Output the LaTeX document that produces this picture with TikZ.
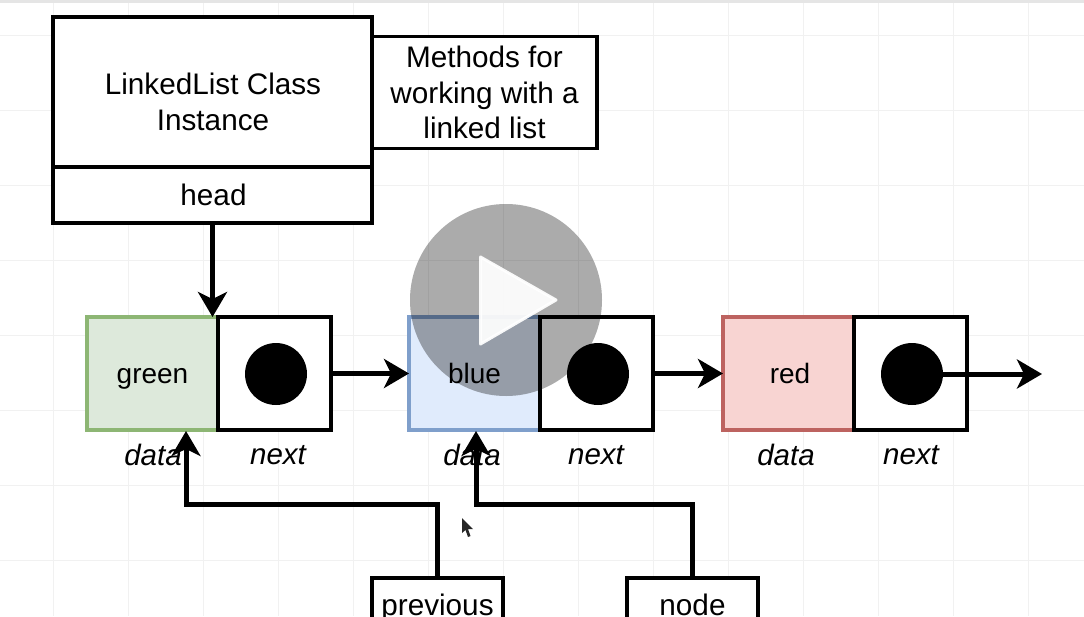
\documentclass[tikz,border=0pt]{standalone}
\usepackage{fontspec}
\setmainfont{Liberation Sans}
\usetikzlibrary{arrows.meta,calc}
\definecolor{gridc}{HTML}{F1F1F1}
\definecolor{greenstroke}{HTML}{8DB674}
\definecolor{greenfill}{HTML}{DDE9DB}
\definecolor{bluestroke}{HTML}{7F9FCB}
\definecolor{bluefill}{HTML}{E0EBFC}
\definecolor{redstroke}{HTML}{BD6360}
\definecolor{redfill}{HTML}{F8D4D2}
\tikzset{
  box/.style={draw=black,line width=3.3pt,fill=white,inner sep=0pt,outer sep=0pt,align=center,font=\fontsize{29.7}{35.5}\selectfont},
  cell/.style={box,minimum width=#1,minimum height=113pt,font=\fontsize{28}{33}\selectfont},
  cellfix/.style={text height=20pt,text depth=0pt},
  datagreen/.style={cell=131pt,draw=greenstroke,fill=greenfill},
  datablue/.style={cell=131pt,draw=bluestroke,fill=bluefill},
  datared/.style={cell=131pt,draw=redstroke,fill=redfill},
  nextcell/.style={cell=113pt},
  dot/.style={circle,fill=black,inner sep=0pt,outer sep=0pt,minimum size=62pt},
  lbl/.style={inner sep=0pt,font=\fontsize{29.5}{35}\selectfont\itshape},
  plain/.style={inner sep=0pt,align=center,font=\fontsize{29.7}{35.5}\selectfont},
  lowbox/.style={box,minimum width=131pt,minimum height=54pt,anchor=north,text height=20pt,text depth=0pt},
  conn/.style={line width=5pt,draw=black,line join=miter,-{Stealth[length=25pt,width=29pt,inset=7pt]}}
}
\begin{document}
\begin{tikzpicture}[x=1pt,y=-1pt]
\useasboundingbox (0,0) rectangle (1084,616);
\clip (0,0) rectangle (1084,616);
\fill[white] (0,0) rectangle (1084,616);
% faint page grid
\foreach \gx in {53,128,...,1030} \draw[gridc,line width=1pt] (\gx,0) -- (\gx,616);
\foreach \gy in {35,110,...,600} \draw[gridc,line width=1pt] (0,\gy) -- (1084,\gy);
\fill[black!10] (0,0) rectangle (1084,2.5);

\node[box,minimum width=225pt,minimum height=112pt] (methods) at (484.5,92.5) {Methods for\\working with a\\linked list};
\node[box,minimum width=319pt,minimum height=150pt] (inst) at (212.5,92) {};
\node[plain] (instlabel) at (213,102) {LinkedList Class\\Instance};
\node[box,minimum width=319pt,minimum height=56pt] (head) at (212.5,195) {\hspace*{2pt}head};

\node[datagreen,cellfix] (green) at (152.5,373.5) {green};
\node[nextcell] (n1) at (274.5,373.5) {};
\node[dot] (d1) at (276,374) {};
\node[datablue,cellfix] (blue) at (474.5,373.5) {blue};
\node[nextcell] (n2) at (596.5,373.5) {};
\node[dot] (d2) at (598,374) {};
\node[datared,cellfix,text width=131pt] (red) at (788.5,373.5) {\hspace*{3pt}red};
\node[nextcell] (n3) at (910.5,373.5) {};
\node[dot] (d3) at (912,374) {};

\node[lbl] (l1) at (153,455) {data};
\node[lbl] (l2) at (278,455.5) {next};
\node[lbl] (l3) at (472,455) {data};
\node[lbl] (l4) at (596,455.5) {next};
\node[lbl] (l5) at (786,455) {data};
\node[lbl] (l6) at (911,455.5) {next};

\node[lowbox] (prev) at (437.5,578) {previous};
\node[lowbox] (nodebox) at (692.5,578) {node};

\coordinate (tipg) at (186,431);
\coordinate (tipb) at (476,431);
\coordinate (out) at (1042,374);

\draw[conn] (head.south) -- (head.south |- green.north);
\draw[conn] (n1.east) -- (blue.west);
\draw[conn] (n2.east) -- (red.west);
\draw[conn] (d3.center) -- (out);
\draw[conn] (prev.north) -- ++(0,-74) -| (tipg);
\draw[conn] (nodebox.north) -- ++(0,-74) -| (tipb);

% mouse cursor
\fill[black!85] (462,518) -- (462,533) -- (465.5,530) -- (468,537) -- (470.5,536) -- (468,529) -- (473,529) -- cycle;

% video play overlay
\fill[black,opacity=0.33] (506,300) circle (96pt);
\fill[white,opacity=0.93,draw=white,line width=3pt,line join=round] (480.5,257) -- (556,300) -- (480.5,344) -- cycle;
\end{tikzpicture}
\end{document}
